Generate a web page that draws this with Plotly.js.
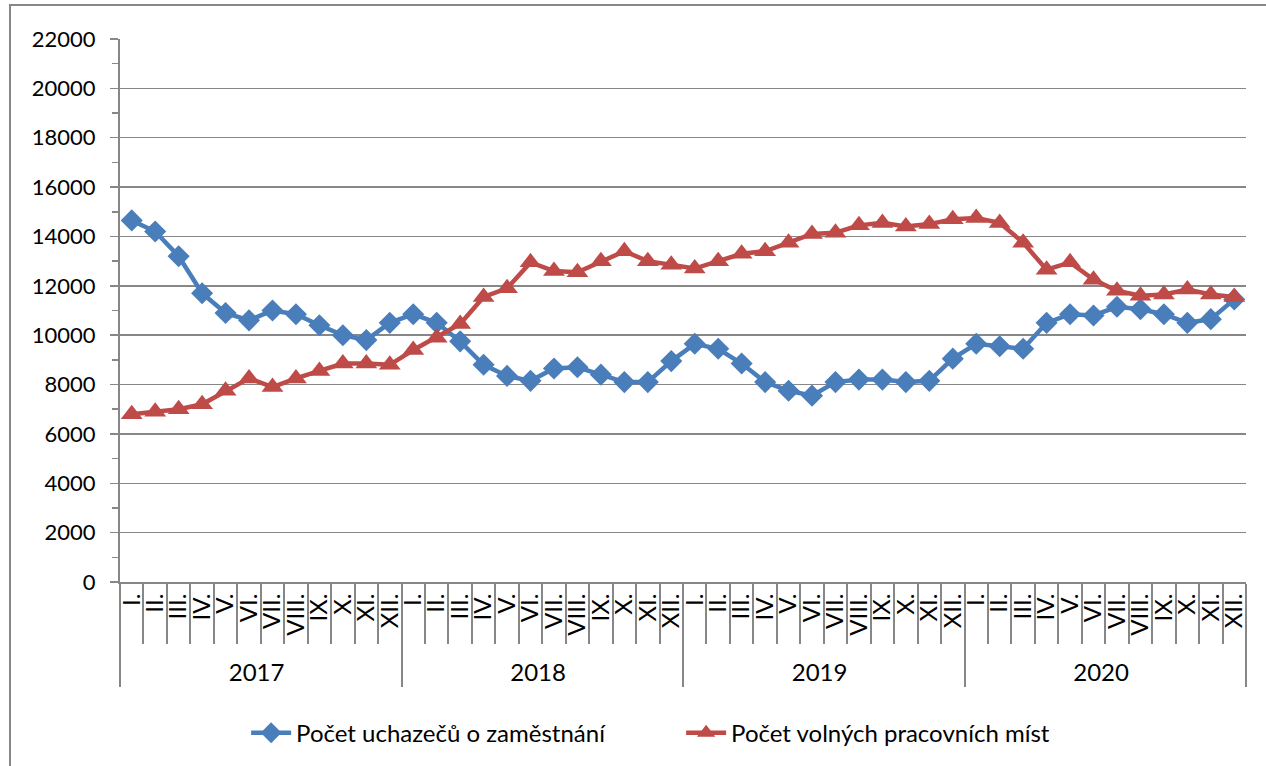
<!DOCTYPE html>
<html>
<head>
<meta charset="utf-8">
<script src="https://cdn.plot.ly/plotly-3.0.1.min.js"></script>
<style>html,body{margin:0;padding:0;background:#fff;}#chart{width:1266px;height:766px;}</style>
</head>
<body>
<div id="chart"></div>
<script>
const years = ["2017", "2018", "2019", "2020"];
const months = ["I.", "II.", "III.", "IV.", "V.", "VI.", "VII.", "VIII.", "IX.", "X.", "XI.", "XII."];

const uchazeci = [
  14650, 14200, 13200, 11700, 10900, 10600, 11000, 10850, 10400, 10000, 9800, 10500,
  10850, 10500, 9750, 8800, 8350, 8150, 8650, 8700, 8400, 8100, 8100, 8950,
  9650, 9450, 8850, 8100, 7750, 7550, 8100, 8200, 8200, 8100, 8150, 9050,
  9650, 9550, 9450, 10500, 10850, 10800, 11150, 11050, 10850, 10500, 10650, 11450
];
const volnaMista = [
  6800, 6900, 7000, 7200, 7750, 8250, 7900, 8250, 8550, 8850, 8850, 8800,
  9400, 9900, 10450, 11550, 11900, 12950, 12600, 12550, 13000, 13400, 13000, 12850,
  12700, 13000, 13300, 13400, 13750, 14100, 14150, 14450, 14550, 14400, 14500, 14700,
  14750, 14550, 13750, 12650, 12950, 12250, 11800, 11600, 11650, 11850, 11650, 11550
];
const seriesNames = ["Počet uchazečů o zaměstnání", "Počet volných pracovních míst"];

const xYears = [], xMonths = [];
years.forEach(y => months.forEach(m => { xYears.push(y); xMonths.push(m); }));

const FONT = "Lato, 'Open Sans', sans-serif";

const traces = [
  {
    x: [xYears, xMonths], y: uchazeci, name: seriesNames[0], type: "scatter", mode: "lines+markers",
    line: {color: "#4A7EBB", width: 4.5},
    marker: {symbol: "diamond", size: 17, color: "#4A7EBB"}
  },
  {
    x: [xYears, xMonths], y: volnaMista, name: seriesNames[1], type: "scatter", mode: "lines+markers",
    line: {color: "#BE4B48", width: 4.5},
    marker: {symbol: "triangle-up", size: 19, color: "#BE4B48"}
  }
];

const layout = {
  width: 1266, height: 766,
  margin: {l: 120, r: 20, t: 39, b: 183},
  paper_bgcolor: "#fff", plot_bgcolor: "#fff",
  font: {family: FONT, size: 22, color: "#000"},
  showlegend: true,
  legend: {
    orientation: "h", x: 0.112, xanchor: "left", y: -0.276, yanchor: "middle",
    font: {family: FONT, size: 24, color: "#000"}, entrywidth: 380, itemwidth: 40
  },
  xaxis: {
    type: "multicategory",
    range: [-0.5, 47.5],
    tickmode: "linear", dtick: 1,
    tickangle: -90,
    tickson: "boundaries",
    ticks: "outside", ticklen: 60, tickcolor: "#878787", tickwidth: 2,
    showline: true, linecolor: "#878787", linewidth: 2,
    showgrid: false, zeroline: false,
    showdividers: true, dividercolor: "#878787", dividerwidth: 2,
    tickfont: {family: FONT, size: 24, color: "#000"}
  },
  yaxis: {
    range: [0, 22000], dtick: 2000, tickformat: "d",
    showgrid: true, gridcolor: "#878787", gridwidth: 1.5,
    zeroline: false,
    showline: true, linecolor: "#878787", linewidth: 2,
    ticks: "outside", ticklen: 8, tickcolor: "#878787", tickwidth: 1.5,
    ticklabelstandoff: 10,
    minor: {dtick: 1000, ticks: "outside", ticklen: 6, tickcolor: "#878787", showgrid: false},
    tickfont: {family: FONT, size: 22, color: "#000"}
  },
  shapes: [
    {type: "rect", xref: "paper", yref: "paper", x0: -0.0977, x1: 1.2, y0: -0.6, y1: 1.0625,
     line: {color: "#878787", width: 2}, fillcolor: "rgba(0,0,0,0)", layer: "below"}
  ]
};

Plotly.newPlot("chart", traces, layout, {displayModeBar: false, staticPlot: true});
</script>
</body>
</html>
